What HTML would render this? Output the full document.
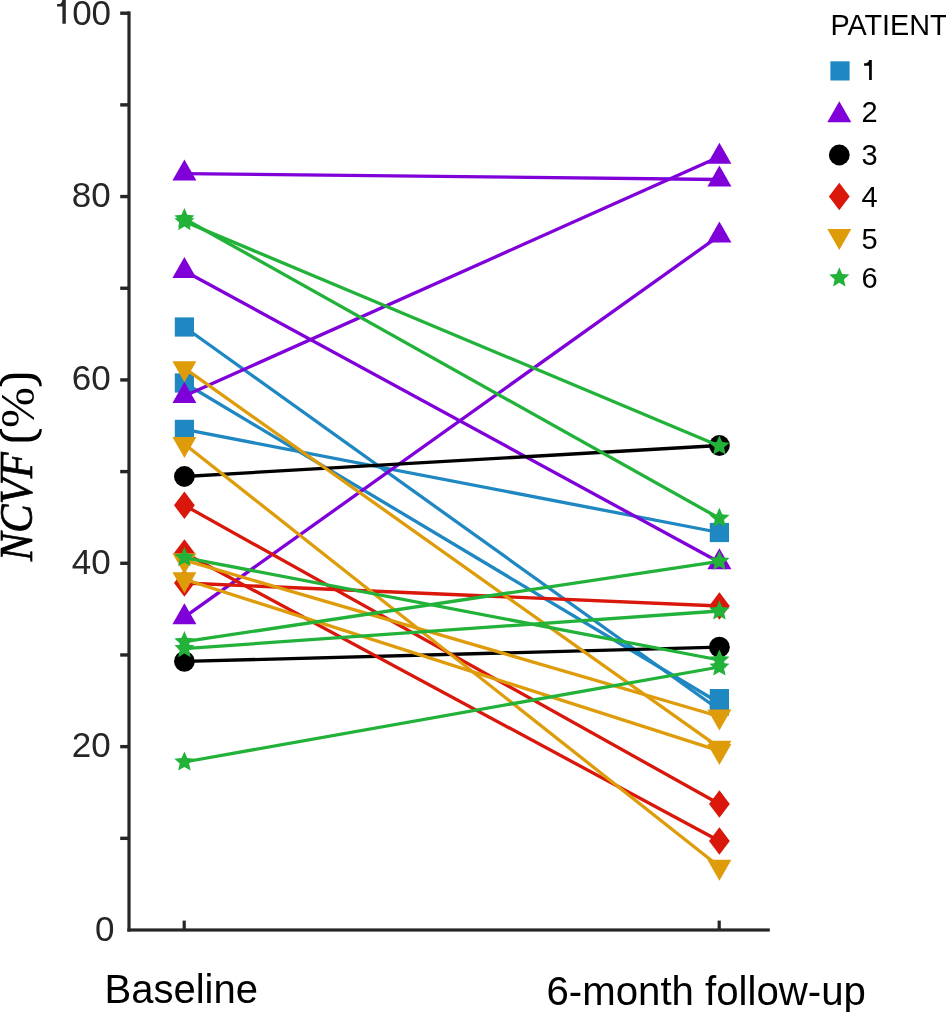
<!DOCTYPE html><html><head><meta charset="utf-8"><style>html,body{margin:0;padding:0;background:#fff;width:946px;height:1012px;overflow:hidden}svg{display:block;will-change:transform}</style></head><body>
<svg width="946" height="1012" viewBox="0 0 946 1012">
<rect width="946" height="1012" fill="#fff"/>
<g fill="#262626">
<rect x="127.4" y="11.4" width="3.2" height="920.2"/>
<rect x="127.4" y="928.4" width="642.4" height="3.2"/>
<rect x="120.2" y="836.62" width="9" height="3.4"/>
<rect x="120.2" y="744.94" width="9" height="3.4"/>
<rect x="120.2" y="653.26" width="9" height="3.4"/>
<rect x="120.2" y="561.58" width="9" height="3.4"/>
<rect x="120.2" y="469.90" width="9" height="3.4"/>
<rect x="120.2" y="378.22" width="9" height="3.4"/>
<rect x="120.2" y="286.54" width="9" height="3.4"/>
<rect x="120.2" y="194.86" width="9" height="3.4"/>
<rect x="120.2" y="103.18" width="9" height="3.4"/>
<rect x="120.2" y="11.50" width="9" height="3.4"/>
<rect x="182.6" y="920.6" width="3.2" height="9"/>
<rect x="717.6" y="920.6" width="3.2" height="9"/>
</g>
<g font-family="Liberation Sans, sans-serif" font-size="35" fill="#262626" text-anchor="end">
<text transform="translate(110.8,757.14) scale(1,1.02)">20</text>
<text transform="translate(110.8,573.78) scale(1,1.02)">40</text>
<text transform="translate(110.8,390.42) scale(1,1.02)">60</text>
<text transform="translate(110.8,207.06) scale(1,1.02)">80</text>
<text x="111.1" y="25">00</text>
<path d="M62.4,-0.9 H65.8 V23.8 H62.4 V6.6 H57.1 V4.1 H59.3 Q62.2,3.6 62.4,-0.9 Z"/>
<text x="114.5" y="941">0</text>
</g>
<line x1="184.4" y1="327" x2="719.4" y2="710" stroke="#1F87C1" stroke-width="3.3"/>
<line x1="184.4" y1="383" x2="719.4" y2="703" stroke="#1F87C1" stroke-width="3.3"/>
<line x1="184.4" y1="429.4" x2="719.4" y2="532.5" stroke="#1F87C1" stroke-width="3.3"/>
<rect x="174.80" y="317.40" width="19.2" height="19.2" fill="#1F87C1"/>
<rect x="709.80" y="696.40" width="19.2" height="19.2" fill="#1F87C1"/>
<rect x="174.80" y="373.40" width="19.2" height="19.2" fill="#1F87C1"/>
<rect x="709.80" y="689.00" width="19.2" height="19.2" fill="#1F87C1"/>
<rect x="174.80" y="419.80" width="19.2" height="19.2" fill="#1F87C1"/>
<rect x="709.80" y="522.90" width="19.2" height="19.2" fill="#1F87C1"/>
<line x1="184.4" y1="173.6" x2="719.4" y2="179.5" stroke="#7F00D9" stroke-width="3.3"/>
<line x1="184.4" y1="271" x2="719.4" y2="562.2" stroke="#7F00D9" stroke-width="3.3"/>
<line x1="184.4" y1="396" x2="719.4" y2="156.8" stroke="#7F00D9" stroke-width="3.3"/>
<line x1="184.4" y1="617.2" x2="719.4" y2="235.6" stroke="#7F00D9" stroke-width="3.3"/>
<polygon points="184.40,159.60 196.40,180.60 172.40,180.60" fill="#7F00D9"/>
<polygon points="719.40,165.50 731.40,186.50 707.40,186.50" fill="#7F00D9"/>
<polygon points="184.40,257.00 196.40,278.00 172.40,278.00" fill="#7F00D9"/>
<polygon points="719.40,548.20 731.40,569.20 707.40,569.20" fill="#7F00D9"/>
<polygon points="184.40,382.00 196.40,403.00 172.40,403.00" fill="#7F00D9"/>
<polygon points="719.40,142.80 731.40,163.80 707.40,163.80" fill="#7F00D9"/>
<polygon points="184.40,603.20 196.40,624.20 172.40,624.20" fill="#7F00D9"/>
<polygon points="719.40,221.60 731.40,242.60 707.40,242.60" fill="#7F00D9"/>
<line x1="184.4" y1="476.5" x2="719.4" y2="445.5" stroke="#000000" stroke-width="3.3"/>
<line x1="184.4" y1="661.4" x2="719.4" y2="647.2" stroke="#000000" stroke-width="3.3"/>
<circle cx="184.40" cy="476.50" r="10.4" fill="#000000"/>
<circle cx="719.40" cy="445.50" r="10.4" fill="#000000"/>
<circle cx="184.40" cy="661.40" r="10.4" fill="#000000"/>
<circle cx="719.40" cy="647.20" r="10.4" fill="#000000"/>
<line x1="184.4" y1="505.3" x2="719.4" y2="804" stroke="#D9170A" stroke-width="3.3"/>
<line x1="184.4" y1="553" x2="719.4" y2="841" stroke="#D9170A" stroke-width="3.3"/>
<line x1="184.4" y1="583" x2="719.4" y2="606" stroke="#D9170A" stroke-width="3.3"/>
<polygon points="184.40,491.50 194.80,505.30 184.40,519.10 174.00,505.30" fill="#D9170A"/>
<polygon points="719.40,790.20 729.80,804.00 719.40,817.80 709.00,804.00" fill="#D9170A"/>
<polygon points="184.40,539.20 194.80,553.00 184.40,566.80 174.00,553.00" fill="#D9170A"/>
<polygon points="719.40,827.20 729.80,841.00 719.40,854.80 709.00,841.00" fill="#D9170A"/>
<polygon points="184.40,569.20 194.80,583.00 184.40,596.80 174.00,583.00" fill="#D9170A"/>
<polygon points="719.40,592.20 729.80,606.00 719.40,619.80 709.00,606.00" fill="#D9170A"/>
<line x1="184.4" y1="368.2" x2="719.4" y2="747.7" stroke="#DE9C0B" stroke-width="3.3"/>
<line x1="184.4" y1="444" x2="719.4" y2="866.7" stroke="#DE9C0B" stroke-width="3.3"/>
<line x1="184.4" y1="560.2" x2="719.4" y2="716.5" stroke="#DE9C0B" stroke-width="3.3"/>
<line x1="184.4" y1="579.2" x2="719.4" y2="750.9" stroke="#DE9C0B" stroke-width="3.3"/>
<polygon points="172.40,361.20 196.40,361.20 184.40,382.20" fill="#DE9C0B"/>
<polygon points="707.40,740.70 731.40,740.70 719.40,761.70" fill="#DE9C0B"/>
<polygon points="172.40,437.00 196.40,437.00 184.40,458.00" fill="#DE9C0B"/>
<polygon points="707.40,859.70 731.40,859.70 719.40,880.70" fill="#DE9C0B"/>
<polygon points="172.40,553.20 196.40,553.20 184.40,574.20" fill="#DE9C0B"/>
<polygon points="707.40,709.50 731.40,709.50 719.40,730.50" fill="#DE9C0B"/>
<polygon points="172.40,572.20 196.40,572.20 184.40,593.20" fill="#DE9C0B"/>
<polygon points="707.40,743.90 731.40,743.90 719.40,764.90" fill="#DE9C0B"/>
<line x1="184.4" y1="218.7" x2="719.4" y2="518.3" stroke="#22B23A" stroke-width="3.3"/>
<line x1="184.4" y1="221.6" x2="719.4" y2="446" stroke="#22B23A" stroke-width="3.3"/>
<line x1="184.4" y1="557.6" x2="719.4" y2="660" stroke="#22B23A" stroke-width="3.3"/>
<line x1="184.4" y1="641.7" x2="719.4" y2="561.3" stroke="#22B23A" stroke-width="3.3"/>
<line x1="184.4" y1="648.6" x2="719.4" y2="611" stroke="#22B23A" stroke-width="3.3"/>
<line x1="184.4" y1="762" x2="719.4" y2="667" stroke="#22B23A" stroke-width="3.3"/>
<polygon points="184.40,208.10 187.28,214.74 194.48,215.42 189.06,220.21 190.63,227.28 184.40,223.60 178.17,227.28 179.74,220.21 174.32,215.42 181.52,214.74" fill="#22B23A"/>
<polygon points="719.40,507.70 722.28,514.34 729.48,515.02 724.06,519.81 725.63,526.88 719.40,523.20 713.17,526.88 714.74,519.81 709.32,515.02 716.52,514.34" fill="#22B23A"/>
<polygon points="184.40,211.00 187.28,217.64 194.48,218.32 189.06,223.11 190.63,230.18 184.40,226.50 178.17,230.18 179.74,223.11 174.32,218.32 181.52,217.64" fill="#22B23A"/>
<polygon points="719.40,435.40 722.28,442.04 729.48,442.72 724.06,447.51 725.63,454.58 719.40,450.90 713.17,454.58 714.74,447.51 709.32,442.72 716.52,442.04" fill="#22B23A"/>
<polygon points="184.40,547.00 187.28,553.64 194.48,554.32 189.06,559.11 190.63,566.18 184.40,562.50 178.17,566.18 179.74,559.11 174.32,554.32 181.52,553.64" fill="#22B23A"/>
<polygon points="719.40,649.40 722.28,656.04 729.48,656.72 724.06,661.51 725.63,668.58 719.40,664.90 713.17,668.58 714.74,661.51 709.32,656.72 716.52,656.04" fill="#22B23A"/>
<polygon points="184.40,631.10 187.28,637.74 194.48,638.42 189.06,643.21 190.63,650.28 184.40,646.60 178.17,650.28 179.74,643.21 174.32,638.42 181.52,637.74" fill="#22B23A"/>
<polygon points="719.40,550.70 722.28,557.34 729.48,558.02 724.06,562.81 725.63,569.88 719.40,566.20 713.17,569.88 714.74,562.81 709.32,558.02 716.52,557.34" fill="#22B23A"/>
<polygon points="184.40,638.00 187.28,644.64 194.48,645.32 189.06,650.11 190.63,657.18 184.40,653.50 178.17,657.18 179.74,650.11 174.32,645.32 181.52,644.64" fill="#22B23A"/>
<polygon points="719.40,600.40 722.28,607.04 729.48,607.72 724.06,612.51 725.63,619.58 719.40,615.90 713.17,619.58 714.74,612.51 709.32,607.72 716.52,607.04" fill="#22B23A"/>
<polygon points="184.40,751.40 187.28,758.04 194.48,758.72 189.06,763.51 190.63,770.58 184.40,766.90 178.17,770.58 179.74,763.51 174.32,758.72 181.52,758.04" fill="#22B23A"/>
<polygon points="719.40,656.40 722.28,663.04 729.48,663.72 724.06,668.51 725.63,675.58 719.40,671.90 713.17,675.58 714.74,668.51 709.32,663.72 716.52,663.04" fill="#22B23A"/>
<g font-family="Liberation Sans, sans-serif" font-size="40" fill="#000">
<text x="104.5" y="1003">Baseline</text>
<text x="546.5" y="1004.8" font-size="40.2">6-month follow-up</text>
</g>
<g transform="translate(32,561) rotate(-90)" fill="#000">
<text x="0" y="0" font-family="Liberation Serif, serif" font-size="46" font-style="italic" stroke="#000" stroke-width="0.7" transform="scale(0.925,1)">NCVF</text>
<text x="133" y="1.8" font-family="Liberation Serif, serif" font-size="49">%</text>
</g>
<path d="M-0.5,429 C-0.5,437 5,441.4 14,441.4 L28,441.4 C37,441.4 41.8,437 41.8,429 L39.4,429 C39.4,434.5 34,437.3 27,437.3 L15,437.3 C7,437.3 1.9,434.5 1.9,429 Z" fill="#000"/>
<path d="M-0.5,386.2 C-0.5,378.2 5,373.8 14,373.8 L28,373.8 C37,373.8 41.8,378.2 41.8,386.2 L39.4,386.2 C39.4,380.7 34,377.9 27,377.9 L15,377.9 C7,377.9 1.9,380.7 1.9,386.2 Z" fill="#000"/>
<text x="830.4" y="34.5" font-family="Liberation Sans, sans-serif" font-size="28.8" fill="#000">PATIENT</text>
<rect x="830.40" y="61.30" width="19.2" height="19.2" fill="#1F87C1"/>
<polygon points="839.30,101.20 851.30,122.20 827.30,122.20" fill="#7F00D9"/>
<circle cx="839.30" cy="155.00" r="10.4" fill="#000000"/>
<polygon points="839.30,182.70 849.70,196.50 839.30,210.30 828.90,196.50" fill="#D9170A"/>
<polygon points="827.30,228.90 851.30,228.90 839.30,249.90" fill="#DE9C0B"/>
<polygon points="839.30,267.30 842.18,273.94 849.38,274.62 843.96,279.41 845.53,286.48 839.30,282.80 833.07,286.48 834.64,279.41 829.22,274.62 836.42,273.94" fill="#22B23A"/>
<path d="M869.1,59.9 H871.8 V79.9 H869.1 V65.7 H864.1 V63.2 H866.2 Q868.9,62.8 869.1,59.9 Z" fill="#000"/>
<text x="861.4" y="122.1" font-family="Liberation Sans, sans-serif" font-size="29" fill="#000">2</text>
<text x="861.4" y="165" font-family="Liberation Sans, sans-serif" font-size="29" fill="#000">3</text>
<text x="861.4" y="207.1" font-family="Liberation Sans, sans-serif" font-size="29" fill="#000">4</text>
<text x="861.4" y="248.5" font-family="Liberation Sans, sans-serif" font-size="29" fill="#000">5</text>
<text x="861.4" y="287.9" font-family="Liberation Sans, sans-serif" font-size="29" fill="#000">6</text>
</svg></body></html>
